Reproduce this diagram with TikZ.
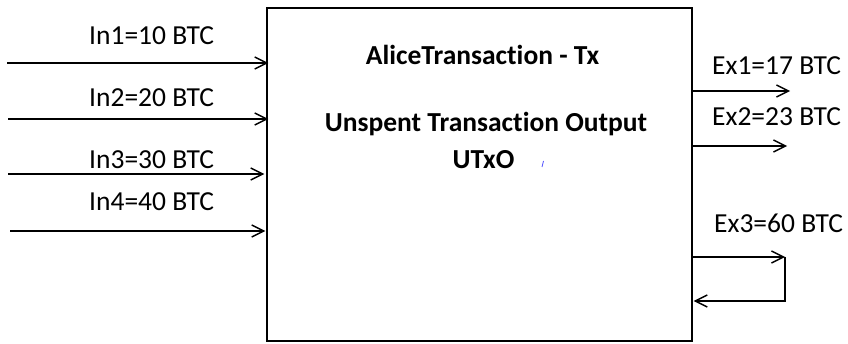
\documentclass[tikz,border=0pt]{standalone}
\usepackage{fontspec}
\setmainfont[Ligatures=NoCommon]{Carlito}
\usetikzlibrary{arrows.meta}
\begin{document}
\begin{tikzpicture}[x=1pt,y=-1pt,
amount/.style ={font=\fontsize{27.5}{32}\selectfont, inner sep=0pt,
  anchor=base west
},
heading/.style ={font=\bfseries\fontsize{27.5}{32}\selectfont, inner sep=0pt,
  anchor=base
},
flow/.style ={line width=1.4pt,
  -{Straight Barb[length=12pt,width=12pt,line width=1.4pt]}
}]
\useasboundingbox (0,0) rectangle (848,344);
% transaction box
\node (tx) at (479.5,174.5) [draw, line width=1.4pt, inner sep=0pt,
  minimum width=425pt, minimum height=333pt] {};
\node (title) at (482.5,65) [heading] {AliceTransaction - Tx};
\node (utxo) at (486,132) [heading] {Unspent Transaction Output};
\node (utxo2) at (483.5,169) [heading] {UTxO};
\draw[blue!70, line width=0.8pt] (542,167) -- (543.5,161);
% inputs
\node (in1) at (89,45) [amount] {In1=10 BTC};
\node (in2) at (89,107) [amount] {In2=20 BTC};
\node (in3) at (89,169) [amount] {In3=30 BTC};
\node (in4) at (89,211) [amount] {In4=40 BTC};
\coordinate (s1) at (7,63);
\coordinate (s2) at (8,119);
\coordinate (s3) at (8,174);
\coordinate (s4) at (10,231);
\draw[flow] (s1) -- ([xshift=2pt]tx.west |- s1);
\draw[flow] (s2) -- ([xshift=2pt]tx.west |- s2);
\draw[flow] (s3) -- ([xshift=-2pt]tx.west |- s3);
\draw[flow] (s4) -- ([xshift=-1pt]tx.west |- s4);
% outputs
\node (ex1) at (712,75) [amount] {Ex1=17 BTC};
\node (ex2) at (712,126) [amount] {Ex2=23 BTC};
\node (ex3) at (714,233) [amount] {Ex3=60 BTC};
\coordinate (e1) at (790,91);
\coordinate (e2) at (787,146);
\coordinate (e3) at (785,257);
\coordinate (r3) at (785,301);
\draw[flow] (tx.east |- e1) -- (e1);
\draw[flow] (tx.east |- e2) -- (e2);
\draw[flow] (tx.east |- e3) -- (e3);
\draw[flow] (e3) -- (r3) -- ([xshift=1pt]tx.east |- r3);
\end{tikzpicture}
\end{document}
